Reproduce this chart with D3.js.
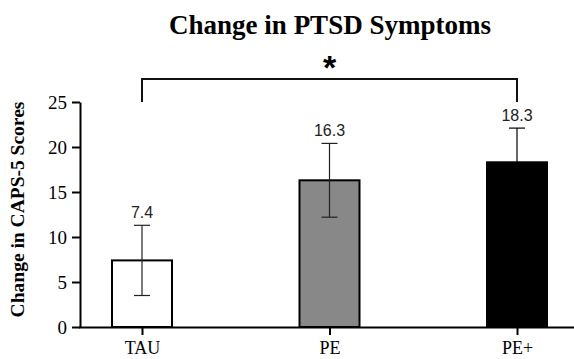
<!DOCTYPE html>
<html>
<head>
<meta charset="utf-8">
<script src="https://cdn.jsdelivr.net/npm/d3@7"></script>
<style>
  html, body { margin: 0; padding: 0; background: #fff; }
  svg { display: block; }
</style>
</head>
<body>
<svg id="chart" width="574" height="359"></svg>
<script>
const categories = ["TAU", "PE", "PE+"];
const values = [7.4, 16.3, 18.3];
const errors = [3.9, 4.1, 3.8];
const valueLabels = ["7.4", "16.3", "18.3"];
const fills = ["#ffffff", "#888888", "#000000"];
const yTicks = [0, 5, 10, 15, 20, 25];
const title = "Change in PTSD Symptoms";
const yLabel = "Change in CAPS-5 Scores";
const sigPair = ["TAU", "PE+"];
const sigMark = "*";

const svg = d3.select("#chart");
const serif = "'Liberation Serif', 'Times New Roman', serif";
const sans = "'Liberation Sans', Arial, sans-serif";

const axisX0 = 80, axisX1 = 574;
const y = d3.scaleLinear().domain([0, 25]).range([327, 102]);
const x = d3.scalePoint().domain(categories).range([142, 517]);
const barW = 60;

// Title
svg.append("text")
  .attr("x", 330).attr("y", 34)
  .attr("text-anchor", "middle")
  .style("font-family", serif).style("font-weight", "bold")
  .style("font-size", "27px")
  .text(title);

// Y label
svg.append("text")
  .attr("transform", `translate(24,${(y(0) + y(25)) / 2 - 5}) rotate(-90)`)
  .attr("text-anchor", "middle")
  .style("font-family", serif).style("font-weight", "bold")
  .style("font-size", "19.5px")
  .text(yLabel);

// Bars
const g = svg.append("g");
g.selectAll("rect.bar").data(categories).join("rect")
  .attr("class", "bar")
  .attr("x", d => x(d) - barW / 2)
  .attr("y", (d, i) => y(values[i]))
  .attr("width", barW)
  .attr("height", (d, i) => y(0) - y(values[i]))
  .attr("fill", (d, i) => fills[i])
  .attr("stroke", "#000").attr("stroke-width", 2);

// Error bars
const capW = 8;
const eb = g.selectAll("g.err").data(categories).join("g").attr("class", "err")
  .attr("stroke", (d, i) => i === 2 ? "#000" : "#222").attr("stroke-width", 1.2);
eb.append("line")
  .attr("x1", d => x(d)).attr("x2", d => x(d))
  .attr("y1", (d, i) => y(values[i] + errors[i]))
  .attr("y2", (d, i) => y(values[i] - errors[i]));
eb.append("line")
  .attr("x1", d => x(d) - capW).attr("x2", d => x(d) + capW)
  .attr("y1", (d, i) => y(values[i] + errors[i]))
  .attr("y2", (d, i) => y(values[i] + errors[i]));
eb.append("line")
  .attr("x1", d => x(d) - capW).attr("x2", d => x(d) + capW)
  .attr("y1", (d, i) => y(values[i] - errors[i]))
  .attr("y2", (d, i) => y(values[i] - errors[i]));

// Value labels
g.selectAll("text.val").data(categories).join("text")
  .attr("class", "val")
  .attr("x", d => x(d))
  .attr("y", (d, i) => y(values[i] + errors[i]) - 7.5)
  .attr("text-anchor", "middle")
  .style("font-family", sans).style("font-size", "16px")
  .attr("fill", "#222")
  .text((d, i) => valueLabels[i]);

// Y axis
const yAxis = svg.append("g")
  .attr("transform", `translate(${axisX0},0)`)
  .call(d3.axisLeft(y).tickValues(yTicks).tickSize(8).tickPadding(5).tickSizeOuter(0));
yAxis.attr("font-family", null).attr("font-size", null);
yAxis.select(".domain").attr("stroke", "#000").attr("stroke-width", 2);
yAxis.selectAll(".tick line").attr("stroke", "#000").attr("stroke-width", 2);
yAxis.selectAll(".tick text")
  .style("font-family", serif).style("font-size", "19px").attr("fill", "#000");

// X axis
const xAxis = svg.append("g")
  .attr("transform", `translate(0,${y(0)})`)
  .call(d3.axisBottom(x).tickSize(8).tickPadding(6).tickSizeOuter(0));
xAxis.attr("font-family", null).attr("font-size", null);
xAxis.select(".domain").attr("d", `M${axisX0 - 1},0.5H${axisX1}`)
  .attr("stroke", "#000").attr("stroke-width", 2);
xAxis.selectAll(".tick line").attr("stroke", "#000").attr("stroke-width", 2);
xAxis.selectAll(".tick text")
  .style("font-family", serif).style("font-size", "18px").attr("fill", "#000");

// Significance bracket
const bx1 = x(sigPair[0]), bx2 = x(sigPair[1]);
const bTop = 79, bBot = y(25);
svg.append("path")
  .attr("d", `M${bx1},${bBot}V${bTop}H${bx2}V${bBot}`)
  .attr("fill", "none").attr("stroke", "#111").attr("stroke-width", 2);
svg.append("text")
  .attr("x", (bx1 + bx2) / 2).attr("y", 79)
  .attr("text-anchor", "middle")
  .style("font-family", sans).style("font-weight", "bold")
  .style("font-size", "34px")
  .text(sigMark);
</script>
</body>
</html>
